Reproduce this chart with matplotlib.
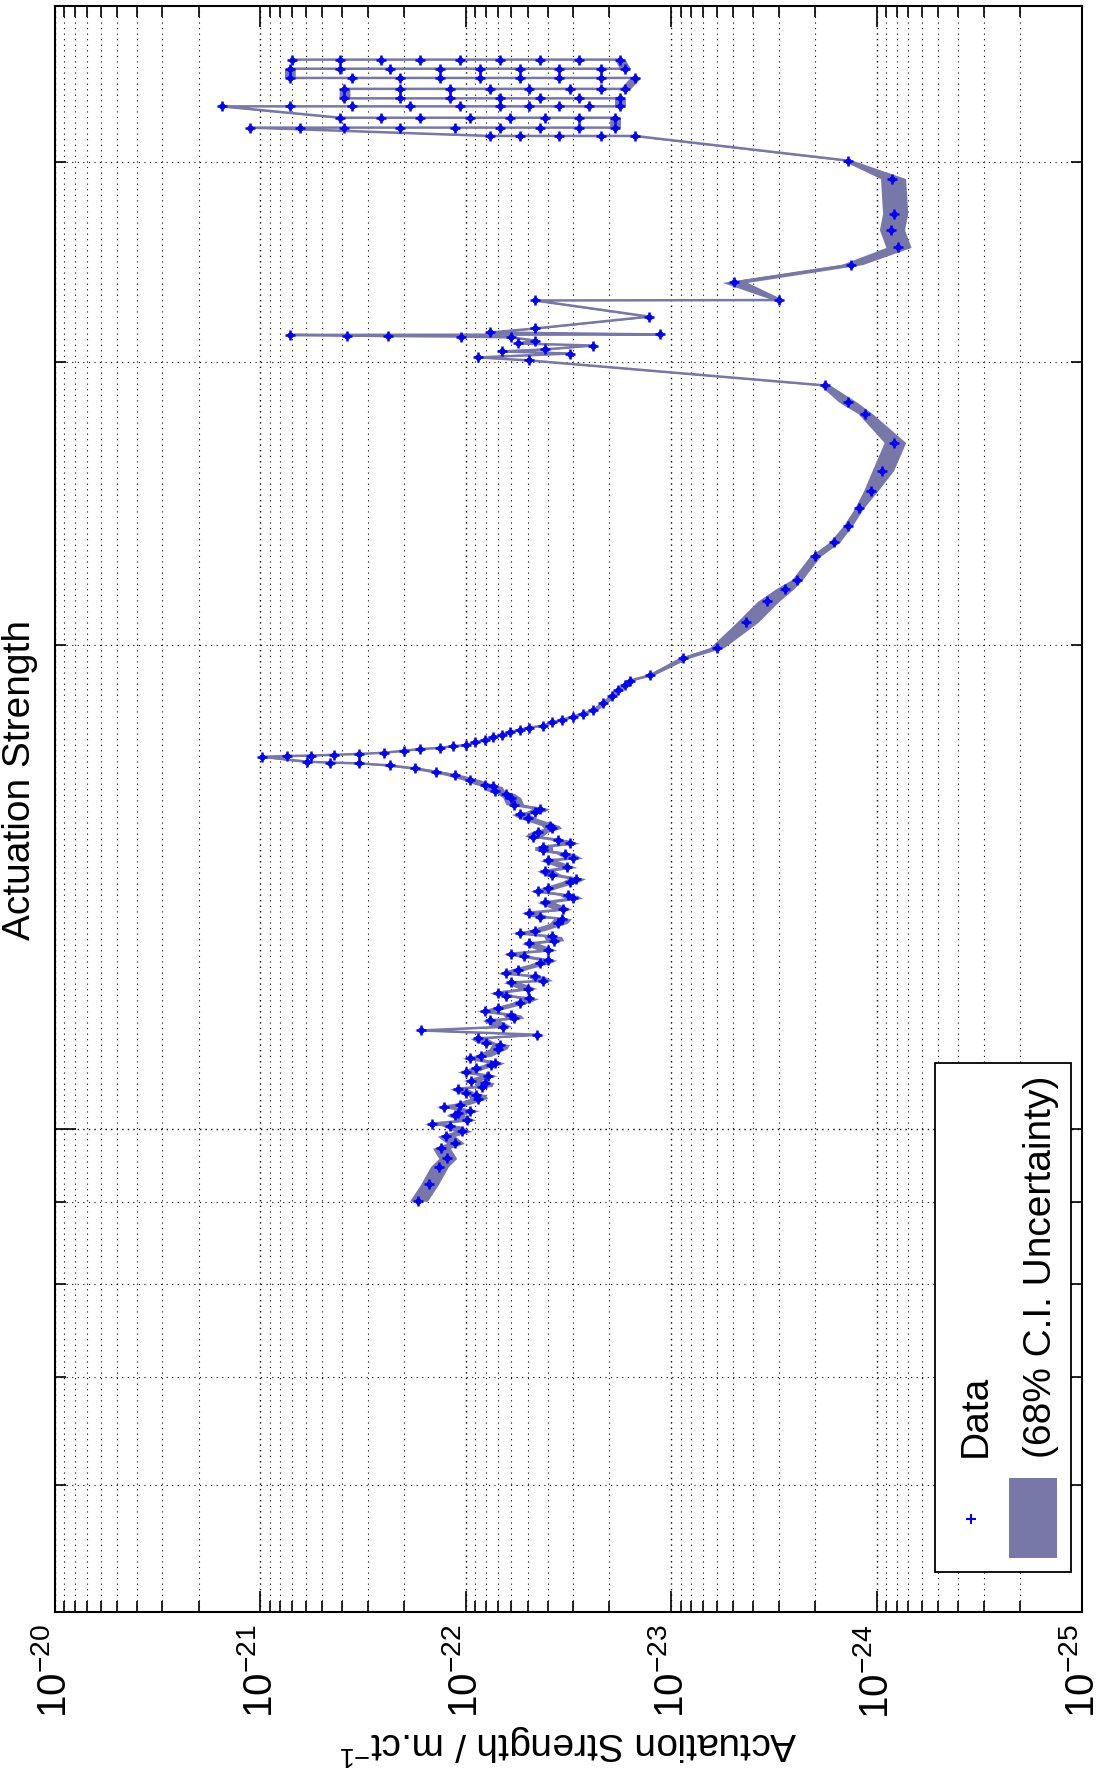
import numpy as np
import matplotlib
matplotlib.use("Agg")
import matplotlib.pyplot as plt
from matplotlib.patches import Rectangle
from matplotlib.lines import Line2D
from matplotlib.ticker import FixedLocator, LogLocator, NullFormatter

plt.rcParams['font.family'] = ['Liberation Sans', 'DejaVu Sans']
plt.rcParams['mathtext.default'] = 'regular'

# frequency (Hz) and actuation strength (m/ct)
f_low = [9.01, 9.23, 9.47, 9.58, 9.72, 9.79, 9.89, 9.96, 10.04, 10.12,
         10.19, 10.26, 10.35, 10.44, 10.53, 10.62, 10.71, 10.79, 10.90, 10.99,
         11.09, 11.21, 11.31, 11.44, 11.51, 11.57, 11.68, 11.77, 11.88, 11.98,
         12.10, 12.22, 12.33, 12.44, 12.56, 12.67, 12.80, 12.91, 13.04, 13.17,
         13.28, 13.42, 13.55, 13.69, 13.83, 13.97, 14.11, 14.25, 14.39, 14.54,
         14.69, 14.83, 14.98, 15.13, 15.29, 15.44, 15.60, 15.75, 15.91, 16.07,
         16.23, 16.37, 16.49, 16.59, 16.68, 16.76, 16.83, 16.88, 16.90, 16.92]
s_low = [1.71e-22, 1.51e-22, 1.35e-22, 1.23e-22, 1.32e-22, 1.13e-22, 1.25e-22, 1.04e-22, 1.19e-22, 9.9e-23,
         1.13e-22, 9.5e-23, 1.07e-22, 8.7e-23, 1.0e-22, 8.3e-23, 9.4e-23, 7.8e-23, 8.9e-23, 7.2e-23,
         8.4e-23, 7.0e-23, 8.0e-23, 4.5e-23, 1.65e-22, 6.6e-23, 7.6e-23, 6.0e-23, 7.0e-23, 5.45e-23,
         6.4e-23, 5.0e-23, 6.0e-23, 4.6e-23, 5.6e-23, 4.35e-23, 5.2e-23, 4.0e-23, 4.9e-23, 3.8e-23,
         4.6e-23, 3.56e-23, 4.35e-23, 3.37e-23, 4.1e-23, 3.18e-23, 4.0e-23, 3.1e-23, 3.8e-23, 3.2e-23,
         4.0e-23, 3.3e-23, 4.2e-23, 3.56e-23, 4.45e-23, 3.9e-23, 5.0e-23, 4.6e-23, 5.8e-23, 6.0e-23,
         7.2e-23, 8.1e-23, 9.5e-23, 1.13e-22, 1.40e-22, 1.77e-22, 2.34e-22, 3.3e-22, 4.6e-22, 5.9e-22]
# more points of the same scattered band
f_low2 = [10.07, 10.22, 10.32, 10.50, 10.59, 10.68, 10.84, 10.96, 11.06, 11.28,
          11.38, 11.71, 11.83, 12.05, 12.15, 12.36, 12.49, 12.73, 12.85, 13.09,
          13.23, 13.51, 13.63, 13.91, 14.05, 14.31, 14.47, 14.73, 14.90, 15.05,
          15.20, 15.38, 15.69, 15.82, 16.16, 16.33]
s_low2 = [1.46e-22, 1.09e-22, 1.28e-22, 8.9e-23, 1.09e-22, 8.1e-23, 1.0e-22, 7.5e-23, 9.5e-23, 6.8e-23,
          8.7e-23, 5.8e-23, 8.1e-23, 4.9e-23, 7.0e-23, 4.2e-23, 6.4e-23, 4.0e-23, 6.0e-23, 3.7e-23,
          5.45e-23, 3.4e-23, 4.9e-23, 3.0e-23, 4.45e-23, 2.9e-23, 4.1e-23, 3.0e-23, 4.2e-23, 3.1e-23,
          4.7e-23, 3.8e-23, 5.45e-23, 4.35e-23, 6.4e-23, 7.4e-23]

f_peak = [17.04, 17.06, 17.07, 17.09, 17.11, 17.14, 17.19, 17.23, 17.26, 17.30,
          17.33, 17.40, 17.45, 17.53, 17.58, 17.66, 17.71, 17.77, 17.82, 17.90,
          17.97, 18.05, 18.13, 18.21, 18.40, 18.59, 18.75, 18.89, 19.01, 19.15]
s_peak = [9.8e-22, 7.4e-22, 5.7e-22, 4.4e-22, 3.3e-22, 2.5e-22, 2.0e-22, 1.67e-22, 1.34e-22, 1.16e-22,
          1.0e-22, 9.0e-23, 8.1e-23, 7.4e-23, 6.7e-23, 6.1e-23, 5.45e-23, 4.9e-23, 4.2e-23, 3.8e-23,
          3.4e-23, 3.0e-23, 2.7e-23, 2.4e-23, 2.15e-23, 1.94e-23, 1.82e-23, 1.68e-23, 1.59e-23, 1.27e-23]

f_mid = [19.62, 19.93, 20.66, 21.29, 21.69, 21.97, 22.71, 23.17, 23.74, 24.33,
         24.96, 25.68, 26.74, 27.87, 28.32, 29.02]
s_mid = [8.8e-24, 6.0e-24, 4.3e-24, 3.4e-24, 2.8e-24, 2.44e-24, 2.0e-24, 1.61e-24, 1.38e-24, 1.22e-24,
         1.07e-24, 9.4e-25, 8.2e-25, 1.14e-24, 1.38e-24, 1.78e-24]
e_mid = [0.06, 0.08, 0.12, 0.12, 0.10, 0.06, 0.06, 0.06, 0.05, 0.05,
         0.08, 0.12, 0.12, 0.08, 0.10, 0.06]

f_spk = [30.08, 30.21, 30.38, 30.47, 30.56, 30.73, 30.82, 30.95, 31.09, 31.13,
         31.15, 31.17, 31.20, 31.22, 31.31, 31.49, 32.03]
s_spk = [4.9e-23, 8.7e-23, 3.1e-23, 6.7e-23, 4.1e-23, 2.4e-23, 5.6e-23, 4.6e-23, 6.0e-23, 1.06e-22,
         2.4e-22, 3.8e-22, 7.2e-22, 1.13e-23, 7.6e-23, 4.6e-23, 1.28e-23]

f_hi = [32.78, 32.80, 33.64, 34.51, 35.37, 36.28, 37.13, 39.04, 40.06]
s_hi = [4.6e-23, 3.0e-24, 4.95e-24, 1.33e-24, 7.9e-25, 8.5e-25, 8.2e-25, 8.4e-25, 1.38e-24]
e_hi = [0.04, 0.06, 0.14, 0.12, 0.14, 0.14, 0.14, 0.14, 0.06]

f_top = [41.5] * 5 + [42.0] * 9 + [42.6] * 8 + [43.3] * 10 + [43.8] * 7 + \
        [44.4] * 8 + [45.1] * 9 + [45.7] * 9 + [46.3] * 9
s_top = [1.5e-23, 2.2e-23, 3.5e-23, 5.45e-23, 7.6e-23,
         1.12e-21, 6.4e-22, 3.9e-22, 2.1e-22, 1.13e-22, 6.8e-23, 4.35e-23, 2.8e-23, 1.88e-23,
         1.88e-23, 2.8e-23, 4.1e-23, 6.1e-23, 9.5e-23, 1.67e-22, 2.6e-22, 4.1e-22,
         1.54e-21, 7.2e-22, 3.6e-22, 1.87e-22, 1.07e-22, 6.8e-23, 4.9e-23, 3.5e-23, 2.5e-23, 1.78e-23,
         1.78e-23, 2.8e-23, 4.35e-23, 6.8e-23, 1.19e-22, 2.1e-22, 3.9e-22,
         3.9e-22, 2.1e-22, 1.19e-22, 7.6e-23, 4.9e-23, 3.1e-23, 2.2e-23, 1.68e-23,
         1.5e-23, 2.2e-23, 3.5e-23, 5.45e-23, 8.5e-23, 1.34e-22, 2.1e-22, 3.6e-22, 7.2e-22,
         7.2e-22, 4.1e-22, 2.34e-22, 1.34e-22, 8.5e-23, 5.45e-23, 3.5e-23, 2.2e-23, 1.68e-23,
         1.78e-23, 2.8e-23, 4.35e-23, 6.8e-23, 1.07e-22, 1.67e-22, 2.6e-22, 4.1e-22, 7.0e-22]

# put the low band in frequency order
order = np.argsort(f_low + f_low2, kind='stable')
f_lo = list(np.array(f_low + f_low2)[order])
s_lo = list(np.array(s_low + s_low2)[order])

freq = np.array(f_lo + f_peak + f_mid + f_spk + f_hi + f_top)
strength = np.array(s_lo + s_peak + s_mid + s_spk + s_hi + s_top)
rel_err = np.array([0.10] * len(f_lo) + [0.04] * len(f_peak) + e_mid +
                   [0.05] * len(f_spk) + e_hi + [0.06] * len(f_top))

band = '#7777A8'

fig = plt.figure(figsize=(11.02, 17.85), dpi=100)
ax = fig.add_axes([55 / 1102, 1 - 1612 / 1785, (1082 - 55) / 1102, (1612 - 6) / 1785])

ax.fill_betweenx(freq, strength * (1 - rel_err), strength * (1 + rel_err),
                 color=band, lw=0, zorder=2)
ax.plot(strength, freq, color=band, lw=1.8, zorder=2)
ax.plot(strength, freq, ls='none', marker='+', ms=7, mew=1.8, color='blue', zorder=3)
ax.plot(strength, freq, ls='none', marker='o', ms=3.5, color='blue', zorder=3)

ax.set_xscale('log')
ax.set_yscale('log')
ax.set_xlim(1e-20, 1e-25)
ax.set_ylim(5, 50)

xt = [1e-20, 1e-21, 1e-22, 1e-23, 1e-24, 1e-25]
ax.xaxis.set_major_locator(FixedLocator(xt))
ax.xaxis.set_minor_locator(LogLocator(base=10, subs=np.arange(2, 10), numticks=50))
ax.xaxis.set_minor_formatter(NullFormatter())
ax.set_xticklabels(['$10^{-20}$', '$10^{-21}$', '$10^{-22}$', '$10^{-23}$',
                    '$10^{-24}$', '$10^{-25}$'], rotation=90, va='top', ha='center')

ax.yaxis.set_major_locator(FixedLocator([10]))
ax.yaxis.set_minor_locator(FixedLocator([6, 7, 8, 9, 20, 30, 40]))
ax.yaxis.set_major_formatter(NullFormatter())
ax.yaxis.set_minor_formatter(NullFormatter())

ax.tick_params(which='both', direction='in', top=True, right=True, width=1.2,
               labelsize=29, pad=9)
ax.tick_params(which='major', length=15)
ax.tick_params(which='minor', length=8)
ax.grid(which='major', ls=(0, (1, 3)), color='k', lw=1.0)
ax.grid(which='minor', ls=(0, (1, 4)), color='k', lw=0.8)
ax.set_axisbelow(True)
for sp in ax.spines.values():
    sp.set_linewidth(1.5)

fig.text(2 / 1102, 1 - 780 / 1785, 'Actuation Strength', rotation=90,
         ha='left', va='center', fontsize=28)
fig.text(568 / 1102, 1 - 1722 / 1785, 'Actuation Strength / m.ct$^{-1}$',
         rotation=180, ha='center', va='top', fontsize=28)

# legend, drawn rotated like the rest of the chart
fig.add_artist(Rectangle((935 / 1102, 1 - 1572 / 1785), (1071 - 935) / 1102, (1572 - 1063) / 1785,
                         transform=fig.transFigure, facecolor='white', edgecolor='black',
                         lw=1.3, zorder=5))
fig.add_artist(Line2D([971 / 1102], [1 - 1519 / 1785], marker='+', ms=7, mew=1.5,
                      color='blue', transform=fig.transFigure, zorder=6))
fig.add_artist(Rectangle((1009 / 1102, 1 - 1558 / 1785), 48 / 1102, 80 / 1785,
                         transform=fig.transFigure, facecolor=band, lw=0, zorder=6))
fig.text(976 / 1102, 1 - 1457 / 1785, 'Data', rotation=90, ha='center', va='bottom',
         fontsize=28, zorder=7)
fig.text(1041 / 1102, 1 - 1458 / 1785, '(68% C.I. Uncertainty)', rotation=90,
         ha='center', va='bottom', fontsize=28, zorder=7)

fig.savefig('out.png', dpi=100)
